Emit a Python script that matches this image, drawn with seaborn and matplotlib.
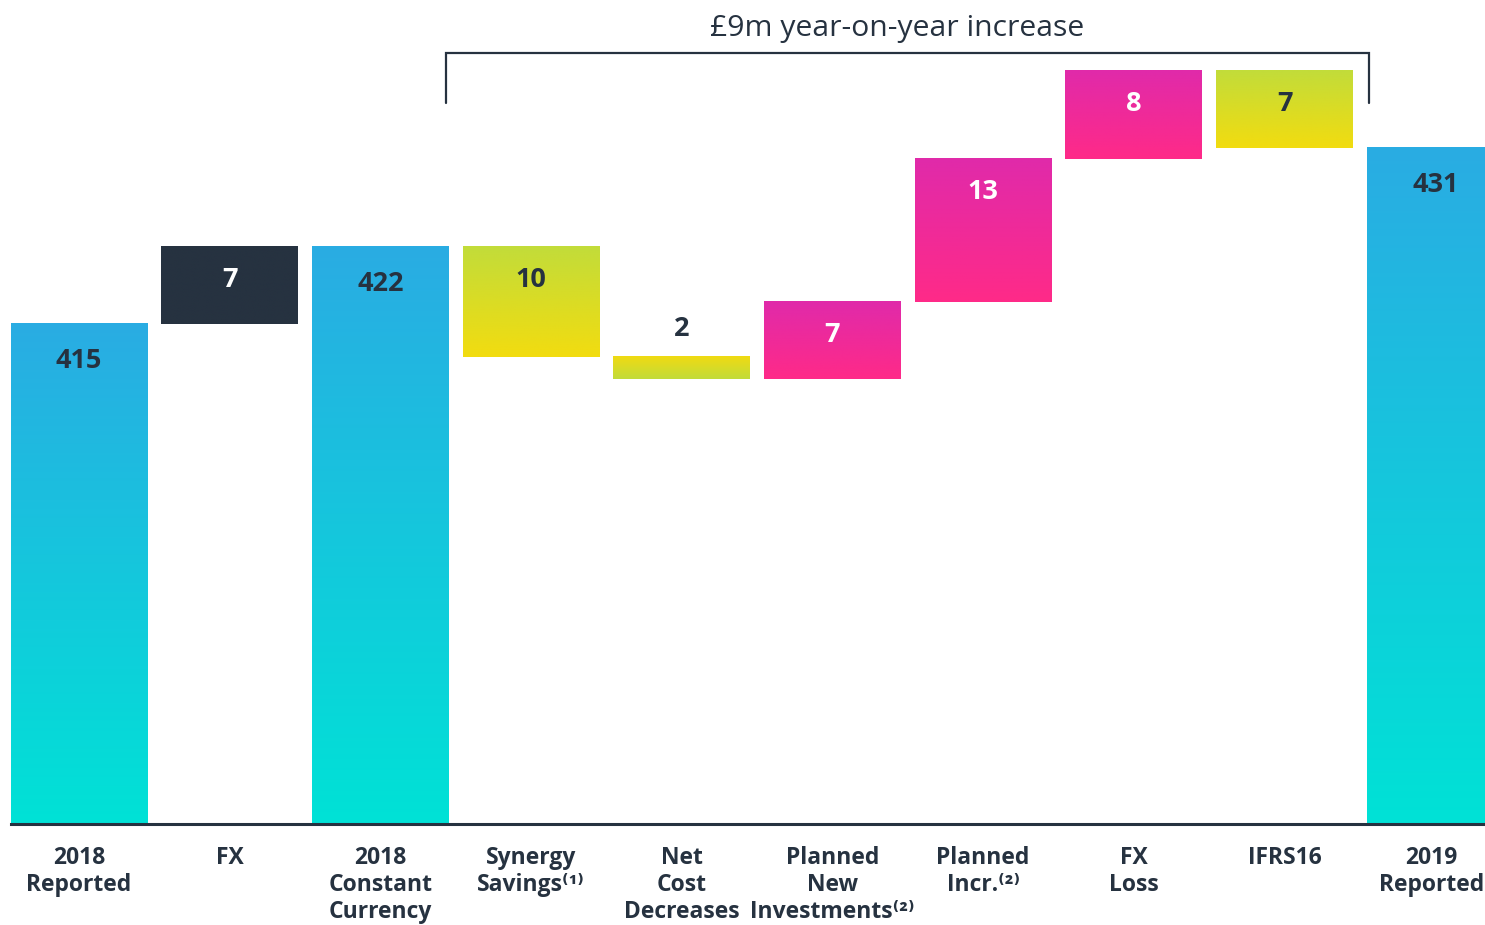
import numpy as np
import pandas as pd
import matplotlib
matplotlib.use("Agg")
import matplotlib.pyplot as plt
import matplotlib.colors as mcolors
import matplotlib.transforms as mtransforms
import seaborn as sns

# ---------------- data ----------------
categories = [
    "2018\nReported",
    "FX",
    "2018\nConstant\nCurrency",
    "Synergy\nSavings⁽¹⁾",
    "Net\nCost\nDecreases",
    "Planned\nNew\nInvestments⁽²⁾",
    "Planned\nIncr.⁽²⁾",
    "FX\nLoss",
    "IFRS16",
    "2019\nReported",
]
values = [415, 7, 422, -10, -2, 7, 13, 8, -7, 431]
kinds = ["total", "fx", "total", "saving", "saving", "invest", "invest", "invest", "saving", "total"]
value_labels = ["415", "7", "422", "10", "2", "7", "13", "8", "7", "431"]
title_text = "£9m year-on-year increase"

# ---------------- styling ----------------
sns.set_theme(style="white")
plt.rcParams["font.family"] = ["Open Sans", "DejaVu Sans"]

DARK = "#263240"
grad_colors = {
    "total": ("#2aace3", "#00e2d6"),
    "fx": (DARK, DARK),
    "saving": ("#c2dc3a", "#f2dc10"),
    "saving_rev": ("#f0da12", "#c2dc3a"),
    "invest": ("#e02aaa", "#ff2a88"),
}
label_colors = {"total": DARK, "fx": "white", "saving": DARK, "invest": "white"}

# waterfall computation
bottoms, tops = [], []
level = 0
for v, k in zip(values, kinds):
    if k == "total":
        bottoms.append(0)
        tops.append(v)
        level = v
    else:
        new = level + v
        bottoms.append(min(level, new))
        tops.append(max(level, new))
        level = new
heights = [t - b for t, b in zip(tops, bottoms)]

df = pd.DataFrame({"cat": categories, "height": heights, "bottom": bottoms})

YMIN, YMAX = 369.6, 444.4

fig = plt.figure(figsize=(14.85, 9.25), dpi=100)
ax = fig.add_axes([11 / 1485, 1 - 824 / 925, 1 - 11 / 1485, 824 / 925])

sns.barplot(data=df, x="cat", y="height", bottom=df["bottom"].values,
            width=0.907, ax=ax, color="white", saturation=1, errorbar=None,
            linewidth=0)

for i, (patch, k) in enumerate(zip(ax.patches, kinds)):
    x0 = patch.get_x()
    w = patch.get_width()
    yb = max(patch.get_y(), YMIN)
    yt = patch.get_y() + patch.get_height()
    key = "saving_rev" if i == 4 else k
    c_top, c_bot = (np.array(mcolors.to_rgb(c)) for c in grad_colors[key])
    t = np.linspace(0, 1, 256)[:, None]
    grad = (c_top[None, :] * (1 - t) + c_bot[None, :] * t)[:, None, :]
    ax.imshow(grad, extent=[x0, x0 + w, yb, yt], aspect="auto",
              origin="upper", zorder=1, interpolation="bilinear")
    patch.set_visible(False)

    # value labels
    cx = x0 + w / 2
    if i == 4:
        ax.annotate(value_labels[i], (cx, yt), xytext=(0, 20), textcoords="offset points",
                    ha="center", va="center", fontsize=19.5, fontweight="bold",
                    color=DARK, zorder=5)
    else:
        off = -27 if k == "total" else -24
        ax.annotate(value_labels[i], (cx, yt), xytext=(0, off), textcoords="offset points",
                    ha="center", va="center", fontsize=19.5, fontweight="bold",
                    color=label_colors[k], zorder=5)

ax.set_xlim(-0.45, 9.33)
ax.set_ylim(YMIN, YMAX)
ax.set_xlabel("")
ax.set_ylabel("")
ax.set_yticks([])
for s in ["top", "right", "left"]:
    ax.spines[s].set_visible(False)
ax.spines["bottom"].set_color(DARK)
ax.spines["bottom"].set_linewidth(2.2)
ax.spines["bottom"].set_zorder(4)
ax.tick_params(axis="x", length=0, pad=16)
ax.set_xticks(range(len(categories)))
ticklabels = ax.set_xticklabels(categories, fontsize=16.5, fontweight="bold", color=DARK,
                                linespacing=1.17, ha="center", multialignment="center")
# nudge the last label so it stays inside the figure
last = ticklabels[-1]
last.set_transform(last.get_transform() +
                   mtransforms.ScaledTranslation(-4 / 100, 0, fig.dpi_scale_trans))

# bracket across the changes (from Synergy to IFRS16)
bx0, bx1 = 2.436, 8.561
y_br_low, y_br_high = 435.05, 439.6
ax.plot([bx0, bx0, bx1, bx1], [y_br_low, y_br_high, y_br_high, y_br_low],
        color=DARK, lw=1.6, clip_on=False, solid_joinstyle="miter", zorder=3)
ax.text(5.43, 441.85, title_text, ha="center", va="center", fontsize=21.7,
        color=DARK, clip_on=False)

fig.savefig("out.png", dpi=100, facecolor="white")
